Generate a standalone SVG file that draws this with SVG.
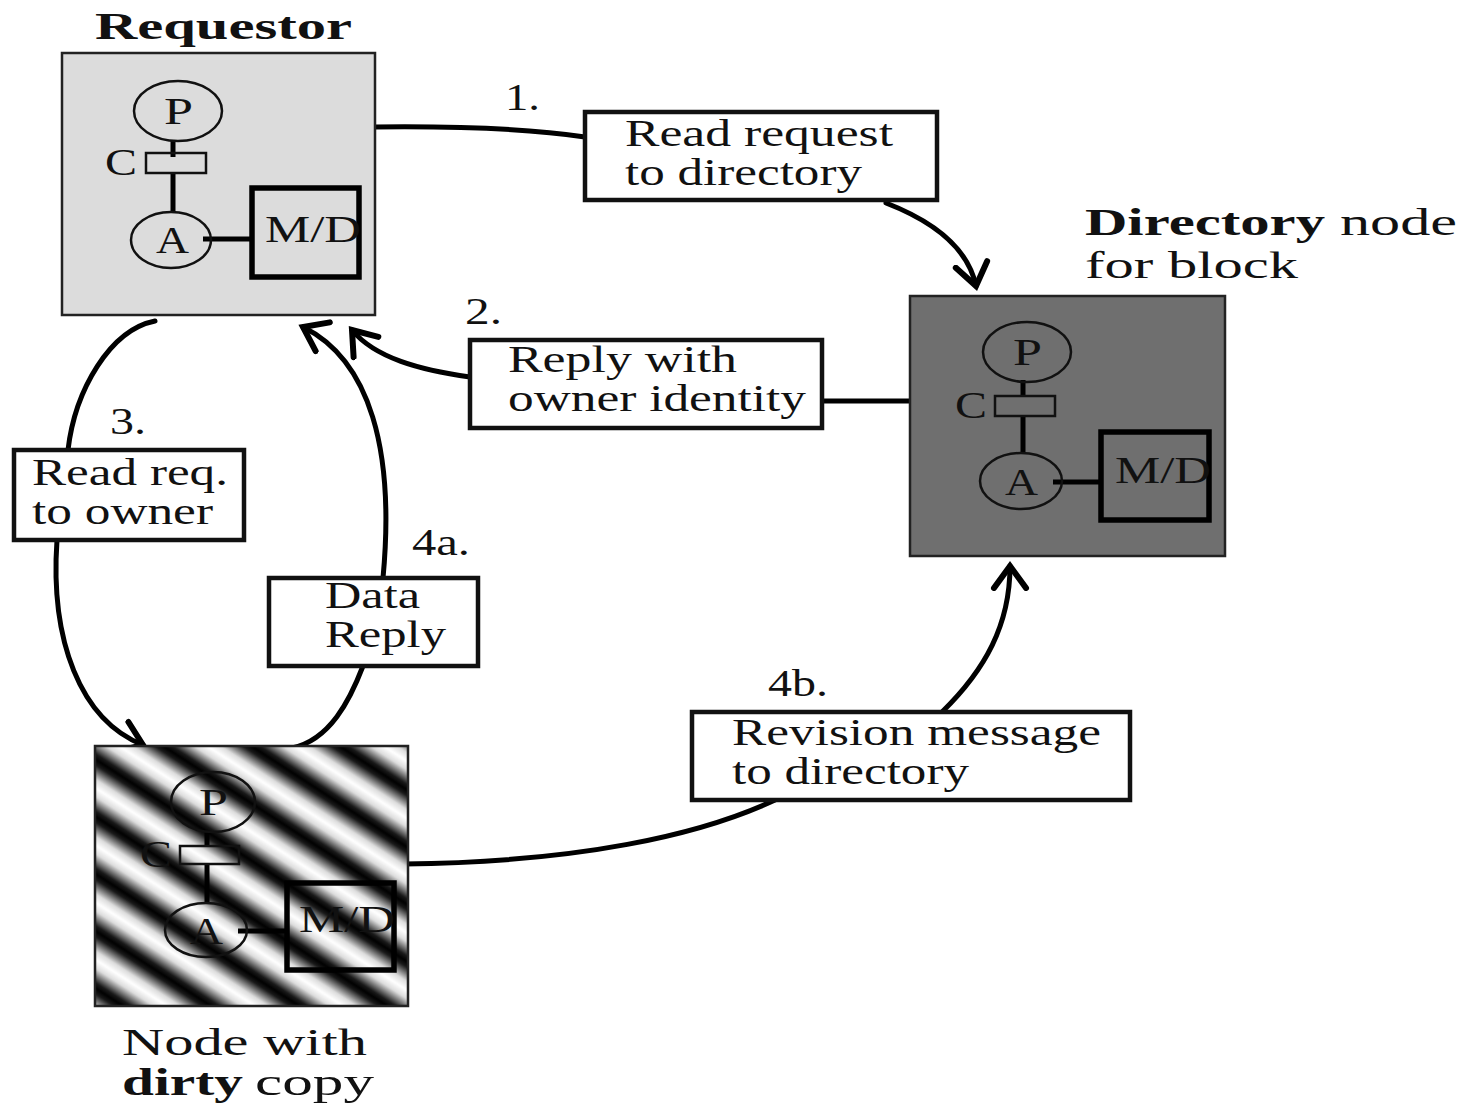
<svg xmlns="http://www.w3.org/2000/svg" width="1468" height="1106" viewBox="0 0 1468 1106">
<style>
text{font-family:"Liberation Serif","Times New Roman",serif;font-size:38px;fill:#111}
.b{font-weight:bold}
.msg{fill:#fff;stroke:#111;stroke-width:4.5}
.conn{fill:none;stroke:#000;stroke-width:5;stroke-linecap:round}
.node{stroke:#222;stroke-width:2.5}
.ln{stroke:#000;stroke-width:5}
.el{fill:none;stroke:#111;stroke-width:2.5}
.cache{fill:none;stroke:#111;stroke-width:2.5}
.md{fill:none;stroke:#000;stroke-width:5.5}
</style>
<defs>
<marker id="arr" markerUnits="userSpaceOnUse" markerWidth="50" markerHeight="50" viewBox="-25 -25 50 50" refX="0" refY="0" orient="auto">
<polyline points="-22,-16 0,0 -22,16" fill="none" stroke="#000" stroke-width="6" stroke-linecap="round" stroke-linejoin="miter"/>
</marker>
<linearGradient id="sg" x1="0" y1="0" x2="1" y2="0">
<stop offset="0" stop-color="#000"/>
<stop offset="0.1" stop-color="#1a1a1a"/>
<stop offset="0.35" stop-color="#ddd"/>
<stop offset="0.5" stop-color="#fff"/>
<stop offset="0.65" stop-color="#ddd"/>
<stop offset="0.9" stop-color="#1a1a1a"/>
<stop offset="1" stop-color="#000"/>
</linearGradient>
<pattern id="stripes" patternUnits="userSpaceOnUse" x="0" y="0" width="48" height="48" patternTransform="translate(95,759) rotate(-57)">
<rect x="0" y="0" width="48" height="48" fill="url(#sg)"/>
</pattern>
</defs>

<g id="connectors">
<path class="conn" d="M375,127 C470,126 540,130 585,137"/>
<path class="conn" d="M886,203 C935,222 968,248 976,286" marker-end="url(#arr)"/>
<path class="conn" d="M910,401 L822,401"/>
<path class="conn" d="M470,377 C420,370 375,358 352,330" marker-end="url(#arr)"/>
<path class="conn" d="M155,321 C110,330 75,390 68,450"/>
<path class="conn" d="M57,540 C50,640 80,720 143,745" marker-end="url(#arr)"/>
<path class="conn" d="M292,748 C330,740 350,700 363,666"/>
<path class="conn" d="M383,578 C395,450 370,360 303,327" marker-end="url(#arr)"/>
<path class="conn" d="M404,864 C580,862 700,835 775,800"/>
<path class="conn" d="M942,712 C985,670 1010,625 1010,566" marker-end="url(#arr)"/>
</g>

<g id="requestor">
<rect class="node" x="62" y="53" width="313" height="262" fill="#dcdcdc"/>
<text class="b" x="95" y="39" textLength="257" lengthAdjust="spacingAndGlyphs">Requestor</text>
<line class="ln" x1="173" y1="141" x2="173" y2="157"/>
<line class="ln" x1="173" y1="173" x2="173" y2="212"/>
<ellipse class="el" cx="178" cy="111" rx="44" ry="30"/>
<text x="164" y="124" textLength="29" lengthAdjust="spacingAndGlyphs">P</text>
<rect class="cache" x="146" y="153" width="60" height="20"/>
<text x="105" y="175" textLength="32" lengthAdjust="spacingAndGlyphs">C</text>
<line class="ln" x1="203" y1="239" x2="252" y2="239"/>
<ellipse class="el" cx="171" cy="240" rx="40" ry="28"/>
<text x="156" y="253" textLength="33" lengthAdjust="spacingAndGlyphs">A</text>
<rect class="md" x="252" y="188" width="107" height="89"/>
<text x="265" y="242" textLength="96" lengthAdjust="spacingAndGlyphs">M/D</text>
</g>

<g id="directory">
<rect class="node" x="910" y="296" width="315" height="260" fill="#6f6f6f"/>
<text class="b" x="1085" y="235" textLength="240" lengthAdjust="spacingAndGlyphs">Directory</text>
<text x="1340" y="235" textLength="117" lengthAdjust="spacingAndGlyphs">node</text>
<text x="1085" y="278" textLength="213" lengthAdjust="spacingAndGlyphs">for block</text>
<line class="ln" x1="1023" y1="380" x2="1023" y2="396"/>
<line class="ln" x1="1023" y1="415" x2="1023" y2="454"/>
<ellipse class="el" cx="1027" cy="352" rx="44" ry="30"/>
<text x="1013" y="365" textLength="29" lengthAdjust="spacingAndGlyphs">P</text>
<rect class="cache" x="995" y="396" width="60" height="20"/>
<text x="955" y="418" textLength="32" lengthAdjust="spacingAndGlyphs">C</text>
<line class="ln" x1="1053" y1="482" x2="1100" y2="482"/>
<ellipse class="el" cx="1021" cy="481" rx="41" ry="28"/>
<text x="1005" y="495" textLength="33" lengthAdjust="spacingAndGlyphs">A</text>
<rect class="md" x="1101" y="432" width="108" height="88"/>
<text x="1115" y="483" textLength="96" lengthAdjust="spacingAndGlyphs">M/D</text>
</g>

<g id="dirty">
<rect class="node" x="95" y="746" width="313" height="260" fill="url(#stripes)"/>
<text x="122" y="1055" textLength="245" lengthAdjust="spacingAndGlyphs">Node with</text>
<text class="b" x="122" y="1095" textLength="121" lengthAdjust="spacingAndGlyphs">dirty</text>
<text x="255" y="1095" textLength="119" lengthAdjust="spacingAndGlyphs">copy</text>
<line class="ln" x1="207" y1="832" x2="207" y2="847"/>
<line class="ln" x1="207" y1="864" x2="207" y2="903"/>
<ellipse class="el" cx="213" cy="802" rx="42" ry="30"/>
<text x="199" y="815" textLength="29" lengthAdjust="spacingAndGlyphs">P</text>
<rect class="cache" x="180" y="846" width="59" height="18"/>
<text x="140" y="867" textLength="32" lengthAdjust="spacingAndGlyphs">C</text>
<line class="ln" x1="238" y1="931" x2="287" y2="931"/>
<ellipse class="el" cx="206" cy="930" rx="41" ry="27"/>
<text x="190" y="944" textLength="33" lengthAdjust="spacingAndGlyphs">A</text>
<rect class="md" x="287" y="883" width="107" height="87"/>
<text x="299" y="932" textLength="96" lengthAdjust="spacingAndGlyphs">M/D</text>
</g>

<g id="msg1">
<text x="505" y="110" textLength="35" lengthAdjust="spacingAndGlyphs">1.</text>
<rect class="msg" x="585" y="112" width="352" height="88"/>
<text x="625" y="146" textLength="268" lengthAdjust="spacingAndGlyphs">Read request</text>
<text x="625" y="185" textLength="237" lengthAdjust="spacingAndGlyphs">to directory</text>
</g>
<g id="msg2">
<text x="465" y="324" textLength="37" lengthAdjust="spacingAndGlyphs">2.</text>
<rect class="msg" x="470" y="340" width="352" height="88"/>
<text x="508" y="372" textLength="229" lengthAdjust="spacingAndGlyphs">Reply with</text>
<text x="508" y="411" textLength="298" lengthAdjust="spacingAndGlyphs">owner identity</text>
</g>
<g id="msg3">
<text x="110" y="434" textLength="36" lengthAdjust="spacingAndGlyphs">3.</text>
<rect class="msg" x="14" y="450" width="230" height="90"/>
<text x="32" y="485" textLength="196" lengthAdjust="spacingAndGlyphs">Read req.</text>
<text x="32" y="524" textLength="181" lengthAdjust="spacingAndGlyphs">to owner</text>
</g>
<g id="msg4a">
<text x="412" y="555" textLength="58" lengthAdjust="spacingAndGlyphs">4a.</text>
<rect class="msg" x="269" y="578" width="209" height="88"/>
<text x="325" y="608" textLength="95" lengthAdjust="spacingAndGlyphs">Data</text>
<text x="325" y="647" textLength="121" lengthAdjust="spacingAndGlyphs">Reply</text>
</g>
<g id="msg4b">
<text x="768" y="696" textLength="60" lengthAdjust="spacingAndGlyphs">4b.</text>
<rect class="msg" x="692" y="712" width="438" height="88"/>
<text x="732" y="745" textLength="369" lengthAdjust="spacingAndGlyphs">Revision message</text>
<text x="732" y="784" textLength="237" lengthAdjust="spacingAndGlyphs">to directory</text>
</g>
</svg>
